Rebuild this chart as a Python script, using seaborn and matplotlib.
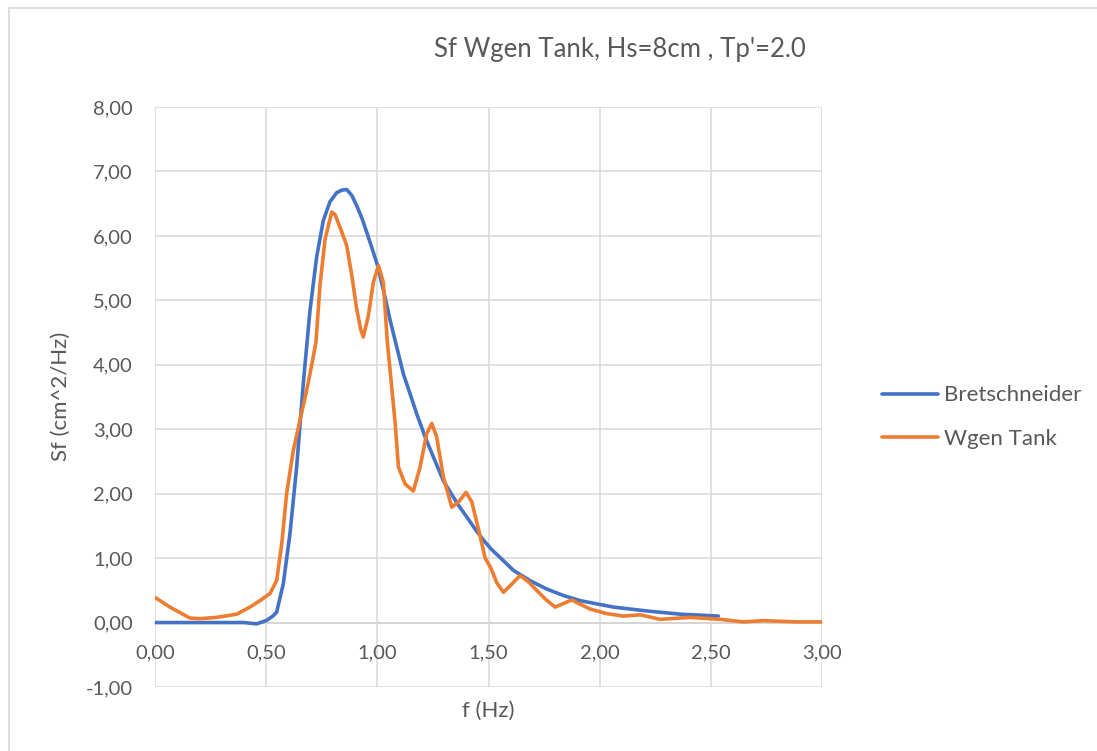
import matplotlib
matplotlib.use("Agg")
import matplotlib.pyplot as plt
import seaborn as sns
import pandas as pd
from matplotlib.patches import Rectangle
from matplotlib.lines import Line2D

# ---- data ----
f_bret = [0.0, 0.1, 0.2, 0.3, 0.4, 0.43, 0.457, 0.50, 0.53, 0.547, 0.577, 0.607, 0.637,
          0.667, 0.697, 0.727, 0.757, 0.787, 0.817, 0.84, 0.862, 0.885, 0.907, 0.93, 0.952,
          0.975, 1.0, 1.03, 1.057, 1.087, 1.117, 1.155, 1.177, 1.215, 1.252, 1.297, 1.327,
          1.365, 1.402, 1.44, 1.477, 1.515, 1.552, 1.612, 1.687, 1.762, 1.837,
          1.912, 1.987, 2.062, 2.137, 2.212, 2.287, 2.362, 2.45, 2.534]
s_bret = [0, 0, 0, 0, 0, -0.01, -0.02, 0.03, 0.10, 0.16, 0.60, 1.38, 2.41,
          3.71, 4.84, 5.67, 6.24, 6.53, 6.67, 6.71, 6.72, 6.63, 6.47, 6.28, 6.06,
          5.82, 5.55, 5.12, 4.70, 4.28, 3.86, 3.47, 3.24, 2.88, 2.57, 2.20, 2.03,
          1.82, 1.64, 1.45, 1.28, 1.13, 1.01, 0.81, 0.65, 0.52, 0.42,
          0.34, 0.29, 0.24, 0.21, 0.18, 0.155, 0.13, 0.115, 0.10]

f_tank = [0.0, 0.067, 0.157, 0.2, 0.277, 0.367, 0.427, 0.472, 0.517, 0.547, 0.57, 0.592,
          0.622, 0.652, 0.682, 0.705, 0.724, 0.742, 0.765, 0.795, 0.81, 0.84, 0.862, 0.885,
          0.907, 0.925, 0.937, 0.96, 0.982, 1.005, 1.027, 1.045, 1.062, 1.08, 1.095, 1.125,
          1.162, 1.192, 1.222, 1.245, 1.267, 1.297, 1.335, 1.365, 1.399, 1.425, 1.455,
          1.485, 1.51, 1.537, 1.567, 1.60, 1.642, 1.68, 1.717, 1.76, 1.80, 1.874, 1.957,
          2.03, 2.107, 2.182, 2.272, 2.407, 2.542, 2.647, 2.737, 2.887, 3.0]
s_tank = [0.39, 0.24, 0.07, 0.06, 0.08, 0.13, 0.24, 0.34, 0.45, 0.65, 1.22, 2.0,
          2.67, 3.14, 3.6, 4.0, 4.35, 5.23, 5.95, 6.37, 6.33, 6.06, 5.85, 5.39,
          4.87, 4.55, 4.43, 4.77, 5.28, 5.54, 5.28, 4.35, 3.75, 3.1, 2.41, 2.15,
          2.04, 2.41, 2.93, 3.09, 2.88, 2.26, 1.79, 1.87, 2.02, 1.87, 1.45,
          1.0, 0.85, 0.62, 0.47, 0.58, 0.73, 0.63, 0.50, 0.35, 0.24, 0.35, 0.21,
          0.14, 0.10, 0.12, 0.05, 0.08, 0.05, 0.01, 0.03, 0.01, 0.01]

series_names = ["Bretschneider", "Wgen Tank"]
colors = ["#4472C4", "#ED7D31"]
x_ticks = [0.0, 0.5, 1.0, 1.5, 2.0, 2.5, 3.0]
y_ticks = [-1, 0, 1, 2, 3, 4, 5, 6, 7, 8]

df = pd.concat([
    pd.DataFrame({"f": f_bret, "S": s_bret, "series": series_names[0]}),
    pd.DataFrame({"f": f_tank, "S": s_tank, "series": series_names[1]}),
], ignore_index=True)

sns.set_theme(style="white")
plt.rcParams['font.family'] = ['Lato', 'DejaVu Sans']
text_col = "#595959"

fig = plt.figure(figsize=(10.97, 7.51), dpi=100)
ax = fig.add_axes([155/1097, 1-687/751, (822-155)/1097, (687-107)/751])

# chart border (Excel chart area)
fig.patches.append(Rectangle((9/1097, -0.05), 1.2, (751-8)/751 + 0.05, transform=fig.transFigure,
                             fill=False, edgecolor="#d9d9d9", linewidth=1.2))

sns.lineplot(data=df, x="f", y="S", hue="series", palette=colors, sort=False,
             linewidth=2.6, ax=ax, legend=False, estimator=None)
for ln in ax.lines:
    ln.set_solid_joinstyle("round")
    ln.set_solid_capstyle("round")

ax.set_xlim(0, 3.0)
ax.set_ylim(-1, 8)
ax.set_xticks(x_ticks)
ax.set_yticks(y_ticks)
ax.set_xticklabels([f"{v:.2f}".replace(".", ",") for v in x_ticks])
ax.set_yticklabels([f"{v:.2f}".replace(".", ",") for v in y_ticks])
ax.grid(True, color="#d9d9d9", linewidth=1.1)
ax.set_axisbelow(True)
for s in ["top", "right", "left"]:
    ax.spines[s].set_visible(False)
ax.spines["bottom"].set_position(("data", 0))
ax.spines["bottom"].set_color("#bfbfbf")
ax.spines["bottom"].set_linewidth(1.2)
ax.spines["bottom"].set_zorder(0.5)
ax.tick_params(axis="x", length=0, pad=16, labelsize=14.5, colors=text_col)
ax.tick_params(axis="y", length=0, pad=16, labelsize=14.5, colors=text_col)

ax.set_xlabel("")
ax.set_ylabel("")
fig.text(488/1097, 1-711/751, "f (Hz)", ha="center", va="center", fontsize=16, color=text_col)
fig.text(61/1097, 1-396/751, "Sf (cm^2/Hz)", ha="center", va="center", rotation=90,
         fontsize=16, color=text_col)
fig.text(620/1097, 1-50/751, "Sf Wgen Tank, Hs=8cm , Tp'=2.0", ha="center", va="center",
         fontsize=18.5, color=text_col)

handles = [Line2D([0], [0], color=c, linewidth=2.6) for c in colors]
leg = fig.legend(handles, series_names, loc="center left",
                 bbox_to_anchor=(862/1097, 1-417/751), frameon=False, fontsize=16,
                 handlelength=2.5, handletextpad=0.3, labelspacing=1.05)
for t in leg.get_texts():
    t.set_color(text_col)

fig.savefig("out.png", dpi=100)
